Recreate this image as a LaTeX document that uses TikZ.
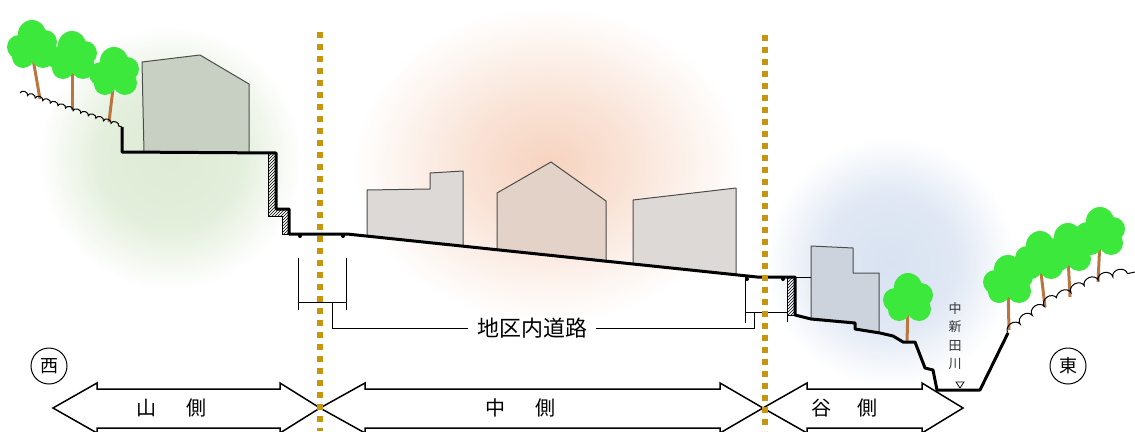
\documentclass[tikz,border=0pt]{standalone}
\usepackage{fontspec}
\newfontfamily\jp{Noto Sans CJK JP}
\usepackage{tikz}
\usetikzlibrary{positioning, patterns, decorations.pathmorphing}
\definecolor{GlowGreen}{HTML}{DEEBD5}
\definecolor{GlowOrange}{HTML}{F6D3BF}
\definecolor{GlowBlue}{HTML}{D8E2F1}
\definecolor{ZoneGold}{HTML}{C8960C}
\definecolor{LeafGreen}{HTML}{3DE83D}
\definecolor{TrunkBrown}{HTML}{B9773F}
\definecolor{HouseGreen}{HTML}{C8D0C3}
\definecolor{HouseGrey}{HTML}{DCD9D7}
\definecolor{HousePeach}{HTML}{E3D2C8}
\definecolor{HouseBlue}{HTML}{CDD3DC}
% soft glows: flat middle, fading rim
\pgfdeclareradialshading{greenglow}{\pgfpoint{0bp}{0bp}}{color(0bp)=(GlowGreen); color(13bp)=(GlowGreen!85!white); color(25bp)=(white); color(50bp)=(white)}
\pgfdeclareradialshading{orangeglow}{\pgfpoint{0bp}{0bp}}{color(0bp)=(GlowOrange); color(10bp)=(GlowOrange!65!white); color(25bp)=(white); color(50bp)=(white)}
\pgfdeclareradialshading{blueglow}{\pgfpoint{0bp}{0bp}}{color(0bp)=(GlowBlue); color(13bp)=(GlowBlue!80!white); color(25bp)=(white); color(50bp)=(white)}
\tikzset{
  % ground, walls and houses
  ground/.style={line width=3pt, line join=round},
  wall/.style={draw=black, line width=1pt, pattern=north east lines},
  house/.style={draw=black!70, line width=1pt, line join=round},
  hill/.style={line width=1pt, decorate},
  leader/.style={line width=1pt},
  % trees
  leaf/.style={fill=LeafGreen},
  trunk/.style={TrunkBrown, line width=3pt},
  % zone borders and arrows
  border/.style={ZoneGold, line width=6pt, dash pattern=on 6pt off 6pt},
  zonearrow/.style={draw=black, fill=white, line width=1.5pt, line join=miter},
  zonelabel/.style={font=\jp\fontsize{20}{20}\selectfont},
  roadlabel/.style={font=\jp\fontsize{22}{22}\selectfont, inner sep=9pt},
  riverlabel/.style={font=\jp\fontsize{13}{18.3}\selectfont, align=center, text=black!80},
  compass/.style={circle, draw, line width=1pt, minimum size=36pt, inner sep=0pt, font=\jp\fontsize{18}{18}\selectfont}
}
\begin{document}
\begin{tikzpicture}[x=1pt, y=-1pt]
  \useasboundingbox (0,0) rectangle (1135,431);

  % soft glow behind each zone
  \shade[shading=greenglow] (170,158) circle (132pt);
  \shade[shading=orangeglow] (548,165) ellipse (195pt and 158pt);
  \shade[shading=blueglow] (890,262) circle (125pt);

  % houses
  \filldraw[house, fill=HouseGreen] (142,62) -- (200,55) -- (249,84) -- (249,153) -- (144,152) -- cycle;
  \filldraw[house, fill=HouseGrey] (367,190) -- (430,189) -- (430,173) -- (463,171) -- (463,246) -- (367,236) -- cycle;
  \filldraw[house, fill=HousePeach] (497,193) -- (551,162) -- (606,201) -- (606,262) -- (497,250) -- cycle;
  \filldraw[house, fill=HouseGrey] (633,200) -- (736,188) -- (736,275) -- (633,264) -- cycle;
  \filldraw[house, fill=HouseBlue] (811,246) -- (853,248) -- (853,273) -- (879,273) -- (879,333) -- (855,329) -- (855,323) -- (811,319) -- cycle;

  % retaining walls
  \draw[wall] (268,153) -- (276,153) -- (276,209) -- (289,209) -- (289,234) -- (282,234) -- (282,216) -- (268,216) -- cycle;
  \draw[wall] (787,277) rectangle (795,315);

  % trees: canopy centre / foot of trunk
  \foreach \cx/\cy/\gx/\gy in {32/45/40/99, 72/56/72/110, 114/72/109/122, 908/298/907/342,
      1008/280/1009/330, 1040/256/1045/307, 1068/248/1070/297, 1100/232/1098/282}{
    \draw[trunk] (\cx,\cy+8) -- (\gx,\gy);
    \fill[leaf] (\cx-13,\cy+2) circle (12pt) (\cx,\cy-11) circle (14pt) (\cx+13,\cy-3) circle (12pt)
      (\cx+11,\cy+11) circle (12pt) (\cx-9,\cy+12) circle (11pt) (\cx,\cy+2) circle (14pt);
  }

  % hillsides
  \draw[hill, decoration={bumps, segment length=16pt, amplitude=3pt}] (20,93) -- (122,127);
  \draw[hill, decoration={bumps, segment length=30pt, amplitude=6pt}]
    (1008,333) -- (1045,306) -- (1072,292) -- (1098,280) -- (1135,272);

  % ground line from west to east
  \draw[ground] (122,127) -- (122,152) -- (276,153) -- (276,209) -- (289,209) -- (289,234)
    -- (347,234) -- (757,277) -- (795,277) -- (795,315) -- (811,319) -- (855,323) -- (855,329)
    -- (880,333) -- (893,336) -- (903,342) -- (915,342) -- (925,368) -- (933,370) -- (937,390)
    -- (980,390) -- (1008,333);
  \draw[leader] (795,277) -- (811,277);
  \foreach \kx/\ky in {300/236, 343/236, 747/279, 783/279}
    \fill (\kx,\ky) circle (2pt);

  % road sections
  \draw[leader] (298,258) -- (298,310) (346,258) -- (346,310) (298,302) -- (346,302);
  \draw[leader] (745,277) -- (745,323) (787,315) -- (787,322) (745,312) -- (787,312);
  \coordinate (lroad) at (332,302);
  \coordinate (rroad) at (754,312);
  \node[roadlabel] (road) at (532,328) {地区内道路};
  \draw[leader] (lroad) |- (road.west);
  \draw[leader] (road.east) -| (rroad);

  % river
  \draw[line width=0.8pt] (956,382) -- (964,382) -- (960,388) -- cycle;
  \node[riverlabel] (river) at (955,336) {中\\新\\田\\川};

  % compass marks
  \node[compass] (west) at (49,366) {西};
  \node[compass] (east) at (1068,366) {東};

  % zone arrows
  \draw[zonearrow] (53,408) -- (97,383) -- (97,389) -- (280,389) -- (280,383) -- (320,408)
    -- (280,433) -- (280,428) -- (97,428) -- (97,433) -- cycle;
  \draw[zonearrow] (320,408) -- (365,383) -- (365,389) -- (720,389) -- (720,383) -- (763,408)
    -- (720,433) -- (720,428) -- (365,428) -- (365,433) -- cycle;
  \draw[zonearrow] (763,408) -- (807,383) -- (807,389) -- (922,389) -- (922,383) -- (963,408)
    -- (922,433) -- (922,428) -- (807,428) -- (807,433) -- cycle;
  \node[zonelabel] (yama) at (171,408) {山\hspace{30pt}側};
  \node[zonelabel] (naka) at (520,408) {中\hspace{30pt}側};
  \node[zonelabel] (tani) at (844,408) {谷\hspace{26pt}側};

  % zone borders
  \draw[border] (320,32) -- (320,431);
  \draw[border] (765,35) -- (765,431);
\end{tikzpicture}
\end{document}
